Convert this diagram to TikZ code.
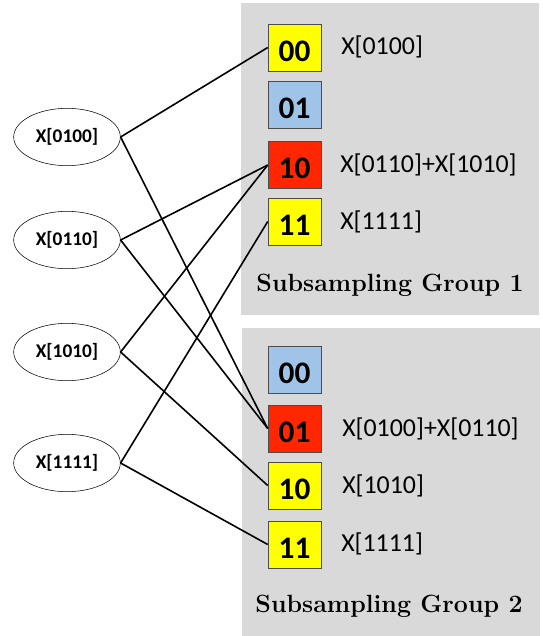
\documentclass[tikz,border=0pt]{standalone}
\usepackage{fontspec}
\usetikzlibrary{shapes.geometric}
\newfontfamily\carlito{Carlito}
\definecolor{binyellow}{RGB}{255,255,0}
\definecolor{binblue}{RGB}{160,196,232}
\definecolor{binred}{RGB}{255,38,0}
\definecolor{groupgray}{RGB}{217,217,217}
\tikzset{
  coef/.style={draw,ellipse,minimum width=80pt,minimum height=43pt,inner sep=0pt,font=\carlito\bfseries\fontsize{14.5}{16}\selectfont},
  bin/.style={draw=black!70,minimum width=39.75pt,minimum height=35.25pt,inner sep=0pt,text height=21pt,font=\carlito\bfseries\fontsize{23.5}{26}\selectfont},
  val/.style={anchor=west,inner sep=0pt,font=\carlito\fontsize{19.4}{22}\selectfont},
  grouptitle/.style={font=\bfseries\fontsize{18.7}{20}\selectfont},
  wire/.style={line width=1.2pt}
}
\begin{document}
\begin{tikzpicture}[x=0.75pt,y=-0.75pt]
    \useasboundingbox (0,0) rectangle (543,636);
    \fill[groupgray] (241,3) rectangle (539,315);
    \fill[groupgray] (242,328) rectangle (540,636);
    \node[coef] (x0100) at (67,137) {X[0100]};
    \node[coef] (x0110) at (67,240) {X[0110]};
    \node[coef] (x1010) at (67,352) {X[1010]};
    \node[coef] (x1111) at (67,463) {X[1111]};
    \node[bin,fill=binyellow] (a00) at (294.5,47.5) {00};
    \node[bin,fill=binblue] (a01) at (294.5,105) {01};
    \node[bin,fill=binred] (a10) at (294.5,165) {10};
    \node[bin,fill=binyellow] (a11) at (294.5,221.5) {11};
    \node[bin,fill=binblue] (b00) at (294.5,369.5) {00};
    \node[bin,fill=binred] (b01) at (294.5,428.5) {01};
    \node[bin,fill=binyellow] (b10) at (294.5,485.5) {10};
    \node[bin,fill=binyellow] (b11) at (294.5,544.5) {11};
    \node[val] (va00) at (341,47) {X[0100]};
    \node[val] (va10) at (340,165) {X[0110]+X[1010]};
    \node[val] (va11) at (340,222) {X[1111]};
    \node[val] (vb01) at (342,429) {X[0100]+X[0110]};
    \node[val] (vb10) at (342,486) {X[1010]};
    \node[val] (vb11) at (341,544) {X[1111]};
    \node[grouptitle] (t1) at (390,285) {Subsampling Group 1};
    \node[grouptitle] (t2) at (389,606) {Subsampling Group 2};
    \foreach \s/\t in {x0100/a00,x0100/b01,x0110/a10,x0110/b01,x1010/a10,x1010/b10,x1111/a11,x1111/b11}
        \draw[wire] (\s.east) -- (\t.west);
\end{tikzpicture}
\end{document}
